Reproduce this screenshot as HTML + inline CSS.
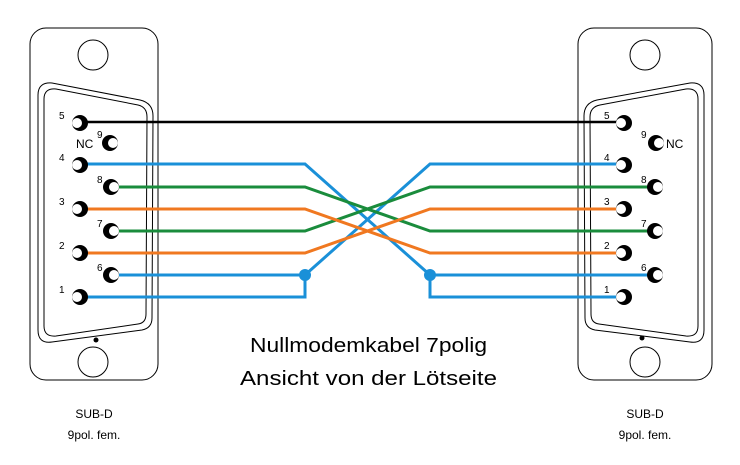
<!DOCTYPE html>
<html><head><meta charset="utf-8"><style>
html,body{margin:0;padding:0;background:#fff;width:740px;height:465px;overflow:hidden}
svg{display:block}
text{font-family:"Liberation Sans",sans-serif;fill:#000}
</style></head><body>
<svg width="740" height="465" viewBox="0 0 740 465">
<defs>
<g id="pr"><circle r="8" fill="#000"/><circle cx="-3" r="5" fill="#fff"/></g>
<g id="pl"><circle r="8" fill="#000"/><circle cx="3" r="5" fill="#fff"/></g>
</defs>
<!-- left connector -->
<g fill="none" stroke="#000" stroke-width="1">
<rect x="30" y="28" width="128" height="352" rx="16"/>
<circle cx="93" cy="55" r="15"/>
<circle cx="93" cy="362" r="15"/>
<path d="M38,95 Q38,82 52,83 L140,100 Q153,103 153,116 L152,318 Q152,328 142,330 L52,342 Q38,344 38,330 Z"/>
<path d="M44,99 Q44,88 56,89 L138,105 Q147,107 147,117 L146,314 Q146,323 138,324 L56,336 Q44,337 44,326 Z"/>
<!-- right connector -->
<rect x="578" y="28" width="134" height="352" rx="16"/>
<circle cx="645" cy="55" r="15"/>
<circle cx="645" cy="362" r="15"/>
<path d="M704,95 Q704,82 690,83 L597,100 Q584,103 584,116 L585,318 Q585,328 595,330 L690,342 Q704,344 704,330 Z"/>
<path d="M698,99 Q698,88 686,89 L600,105 Q590,107 590,117 L591,314 Q591,323 599,324 L686,336 Q698,337 698,326 Z"/>
</g>
<circle cx="96" cy="340" r="2.5" fill="#000"/>
<circle cx="642" cy="338" r="2.5" fill="#000"/>
<!-- wires -->
<g fill="none" stroke-width="3" stroke-linejoin="miter">
<path d="M78,122 H623" stroke="#000" stroke-width="2.5"/>
<path d="M78,164 H305 L430,275 H657" stroke="#1a90d8"/>
<path d="M430,275 V297 H623" stroke="#1a90d8"/>
<path d="M110,275 H305 L430,164 H623" stroke="#1a90d8"/>
<path d="M305,275 V297 H78" stroke="#1a90d8"/>
<path d="M110,187 H305 L430,231 H657" stroke="#1a8c3c"/>
<path d="M110,231 H305 L430,187 H657" stroke="#1a8c3c"/>
<path d="M78,209 H305 L430,253 H623" stroke="#f07820"/>
<path d="M78,253 H305 L430,209 H623" stroke="#f07820"/>
</g>
<circle cx="305" cy="275" r="6" fill="#1a90d8"/>
<circle cx="430" cy="275" r="6" fill="#1a90d8"/>
<!-- pins left -->
<use href="#pr" x="80" y="123"/><use href="#pr" x="80" y="165"/><use href="#pr" x="80" y="209"/><use href="#pr" x="80" y="253"/><use href="#pr" x="80" y="297"/>
<use href="#pl" x="110" y="143"/><use href="#pl" x="111" y="187"/><use href="#pl" x="111" y="231"/><use href="#pl" x="111" y="275"/>
<!-- pins right -->
<use href="#pr" x="624" y="123"/><use href="#pr" x="624" y="165"/><use href="#pr" x="624" y="209"/><use href="#pr" x="624" y="253"/><use href="#pr" x="624" y="297"/>
<use href="#pl" x="656" y="143"/><use href="#pl" x="655" y="187"/><use href="#pl" x="655" y="231"/><use href="#pl" x="655" y="275"/>
<!-- pin labels -->
<g font-size="10">
<text x="59" y="119">5</text><text x="59" y="161">4</text><text x="59" y="205">3</text><text x="59" y="249">2</text><text x="59" y="293">1</text>
<text x="97" y="138">9</text><text x="97" y="183">8</text><text x="97" y="227">7</text><text x="97" y="271">6</text>
<text x="604" y="119">5</text><text x="604" y="161">4</text><text x="604" y="205">3</text><text x="604" y="249">2</text><text x="604" y="293">1</text>
<text x="641" y="138">9</text><text x="641" y="183">8</text><text x="641" y="227">7</text><text x="641" y="271">6</text>
</g>
<text x="76" y="148" font-size="12">NC</text>
<text x="666" y="148" font-size="12">NC</text>
<!-- titles -->
<text x="250" y="352" font-size="20" textLength="237" lengthAdjust="spacingAndGlyphs">Nullmodemkabel 7polig</text>
<text x="240" y="385" font-size="20" textLength="257" lengthAdjust="spacingAndGlyphs">Ansicht von der Lötseite</text>
<g font-size="12" text-anchor="middle">
<text x="94" y="418">SUB-D</text><text x="94" y="439">9pol. fem.</text>
<text x="645" y="418">SUB-D</text><text x="645" y="439">9pol. fem.</text>
</g>
</svg>
</body></html>
